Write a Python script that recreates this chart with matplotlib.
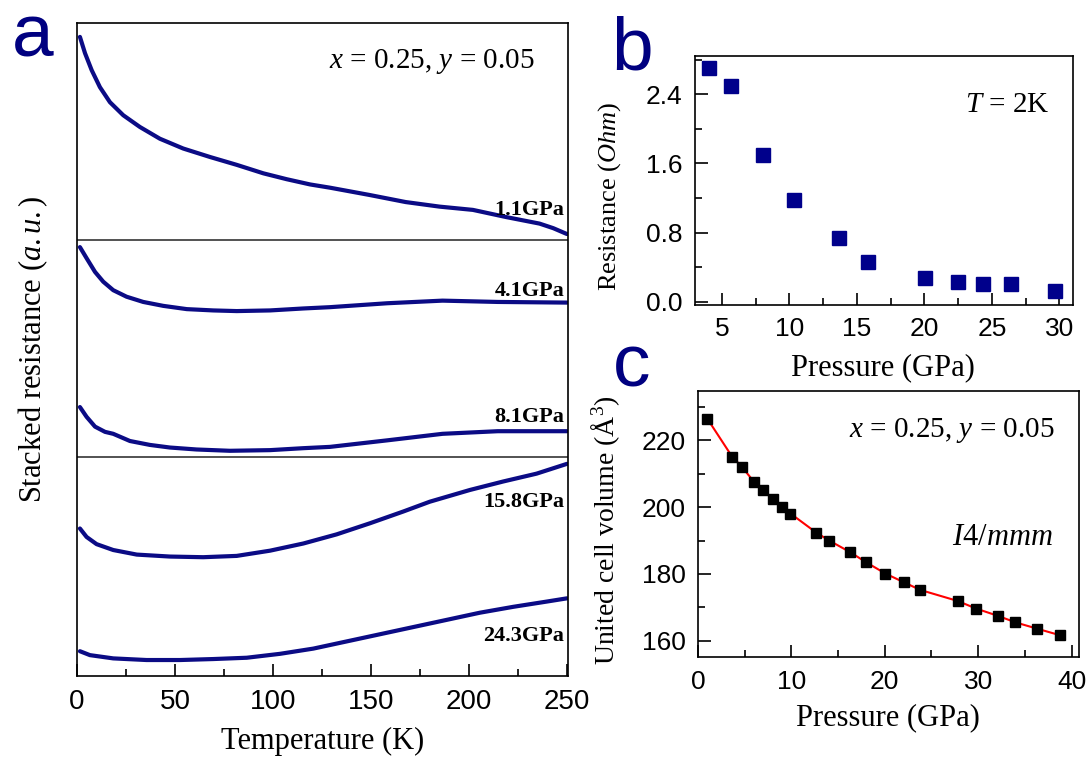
import matplotlib.pyplot as plt
from matplotlib.ticker import MultipleLocator

plt.rcParams['font.family'] = 'Liberation Serif'
plt.rcParams['mathtext.fontset'] = 'custom'
plt.rcParams['mathtext.rm'] = 'Liberation Serif'
plt.rcParams['mathtext.it'] = 'Liberation Serif:italic'

# ---- panel a: stacked R(T) curves (a.u.)
t1 = [1.5, 4.1, 7.5, 11.7, 16.8, 23.6, 32.1, 42.3, 54.2, 67.9, 81.5, 95.1, 107, 118.9,
      129.1, 149, 167.7, 185, 202, 219, 236, 243, 250]
r1 = [97.9, 95.4, 92.8, 90.2, 87.9, 85.9, 84.1, 82.3, 80.8, 79.5, 78.3, 77.0, 76.1, 75.3,
      74.8, 73.7, 72.6, 71.9, 71.4, 70.3, 69.3, 68.6, 67.7]
t2 = [1.5, 4.9, 9.2, 13.4, 18.5, 25.3, 33.8, 44, 56, 69.5, 81.5, 98.5, 115.5, 129.1,
      158.3, 186.5, 214.7, 250]
r2 = [65.7, 64.0, 61.9, 60.4, 59.1, 58.1, 57.3, 56.7, 56.2, 56.0, 55.9, 56.0, 56.3, 56.5,
      57.1, 57.5, 57.3, 57.2]
t3 = [1.5, 4.9, 9.2, 14.3, 18.5, 27, 37.2, 47.4, 61, 78, 98.5, 115.5, 129.1, 158.3,
      186.5, 214.7, 250]
r3 = [41.2, 39.7, 38.2, 37.4, 37.1, 36.0, 35.4, 35.0, 34.7, 34.5, 34.6, 34.9, 35.1, 36.1,
      37.1, 37.5, 37.5]
t4 = [1.5, 4.9, 10, 18.5, 30.5, 47.4, 64.4, 81.5, 98.5, 115.5, 132.5, 149.5, 166.5, 180,
      200.5, 217.5, 234.5, 250]
r4 = [22.6, 21.3, 20.2, 19.3, 18.6, 18.3, 18.2, 18.4, 19.2, 20.3, 21.7, 23.4, 25.2, 26.7,
      28.5, 29.8, 31.0, 32.5]
t5 = [1.5, 6.6, 18.5, 35.5, 52.6, 69.5, 86.6, 103.6, 120.6, 137.6, 154.6, 171.6, 188.6,
      205.6, 222.6, 239.6, 250]
r5 = [3.8, 3.2, 2.7, 2.45, 2.45, 2.6, 2.8, 3.4, 4.2, 5.3, 6.4, 7.5, 8.6, 9.7, 10.6, 11.4, 11.9]
curve_labels = ['1.1GPa', '4.1GPa', '8.1GPa', '15.8GPa', '24.3GPa']
label_y = [71.4, 58.9, 39.6, 26.6, 6.1]
separators = [66.8, 33.5]

# ---- panel b: resistance at 2 K vs pressure
p_b = [4.01, 5.69, 8.07, 10.37, 13.68, 15.78, 20.06, 22.5, 24.31, 26.41, 29.63]
r_b = [2.71, 2.50, 1.70, 1.18, 0.74, 0.455, 0.28, 0.23, 0.20, 0.20, 0.12]

# ---- panel c: unit cell volume vs pressure
p_c = [1.0, 3.66, 4.7, 5.99, 6.99, 8.0, 9.0, 9.9, 12.65, 14.05, 16.3, 18.0, 20.07,
       22.04, 23.8, 27.8, 29.8, 32.15, 33.98, 36.3, 38.8]
v_c = [226.5, 215.1, 212.1, 207.6, 205.1, 202.5, 200.0, 198.1, 192.4, 190.0, 186.5,
       183.5, 180.1, 177.5, 175.2, 171.9, 169.6, 167.4, 165.5, 163.6, 161.6]

navy = '#0b0b85'
letter_col = '#000080'
tick_font = 'Liberation Sans'


def style_axes(ax, size):
    for s in ax.spines.values():
        s.set_linewidth(1.2)
    ax.tick_params(which='both', direction='in', top=False, right=False, width=1.2, pad=9)
    ax.tick_params(which='major', length=9)
    ax.tick_params(which='minor', length=5)
    for lab in ax.get_xticklabels() + ax.get_yticklabels():
        lab.set_fontfamily(tick_font)
        lab.set_fontsize(size)


fig = plt.figure(figsize=(10.92, 7.60), dpi=100)

# panel a
ax1 = fig.add_axes([0.0705, 0.1105, 0.4496, 0.859])
for t, r in zip([t1, t2, t3, t4, t5], [r1, r2, r3, r4, r5]):
    ax1.plot(t, r, color=navy, lw=3, solid_capstyle='round', solid_joinstyle='round')
for y in separators:
    ax1.axhline(y, color='#444444', lw=1.3)
for lab, y in zip(curve_labels, label_y):
    ax1.text(248.5, y, lab, ha='right', va='center', fontsize=16, fontweight='bold')
ax1.set_xlim(0, 250.5)
ax1.set_ylim(0, 100)
ax1.set_yticks([])
ax1.xaxis.set_major_locator(MultipleLocator(50))
ax1.xaxis.set_minor_locator(MultipleLocator(25))
style_axes(ax1, 20)
ax1.set_xlabel('Temperature (K)', fontsize=22)
ax1.xaxis.set_label_coords(0.5, -0.078)
ax1.set_ylabel(r'Stacked resistance ($a.u.$)', fontsize=22)
ax1.yaxis.set_label_coords(-0.055, 0.5)
ax1.text(0.933, 0.942, r'$x$ = 0.25, $y$ = 0.05', transform=ax1.transAxes,
         ha='right', va='center', fontsize=21)

# panel b
ax2 = fig.add_axes([0.6364, 0.5987, 0.3462, 0.3276])
ax2.plot(p_b, r_b, 's', color='#00008b', ms=9.5)
ax2.set_xlim(3, 31)
ax2.set_ylim(-0.038, 2.843)
ax2.xaxis.set_major_locator(MultipleLocator(5))
ax2.xaxis.set_minor_locator(MultipleLocator(2.5))
ax2.yaxis.set_major_locator(MultipleLocator(0.8))
ax2.yaxis.set_minor_locator(MultipleLocator(0.4))
ax2.yaxis.set_major_formatter(lambda v, pos: f'{v:.1f}')
style_axes(ax2, 19)
ax2.set_xlabel('Pressure (GPa)', fontsize=22)
ax2.xaxis.set_label_coords(0.497, -0.193)
ax2.set_ylabel(r'Resistance ($Ohm$)', fontsize=19)
ax2.yaxis.set_label_coords(-0.19, 0.434)
ax2.text(0.937, 0.803, r'$T$ = 2K', transform=ax2.transAxes,
         ha='right', va='center', fontsize=21)

# panel c
ax3 = fig.add_axes([0.6392, 0.1355, 0.3489, 0.35])
ax3.plot(p_c, v_c, '-', color='red', lw=1.5, zorder=1)
ax3.plot(p_c, v_c, 's', color='black', ms=7.5, zorder=2)
ax3.set_xlim(0, 40.8)
ax3.set_ylim(155.1, 234.8)
ax3.xaxis.set_major_locator(MultipleLocator(10))
ax3.xaxis.set_minor_locator(MultipleLocator(5))
ax3.yaxis.set_major_locator(MultipleLocator(20))
ax3.yaxis.set_minor_locator(MultipleLocator(10))
style_axes(ax3, 19)
ax3.set_xlabel('Pressure (GPa)', fontsize=22)
ax3.xaxis.set_label_coords(0.499, -0.173)
ax3.set_ylabel('United cell volume (Å$^3$)', fontsize=20)
ax3.yaxis.set_label_coords(-0.2, 0.477)
ax3.text(0.937, 0.853, r'$x$ = 0.25, $y$ = 0.05', transform=ax3.transAxes,
         ha='right', va='center', fontsize=21)
ax3.text(0.932, 0.451, r'$I$4/$mmm$', transform=ax3.transAxes,
         ha='right', va='center', fontsize=22)

# panel letters
for x, y, s in [(0.011, 0.926, 'a'), (0.560, 0.908, 'b'), (0.561, 0.491, 'c')]:
    fig.text(x, y, s, fontsize=54, color=letter_col, family=tick_font,
             ha='left', va='baseline')

fig.savefig('out.png', dpi=100)
